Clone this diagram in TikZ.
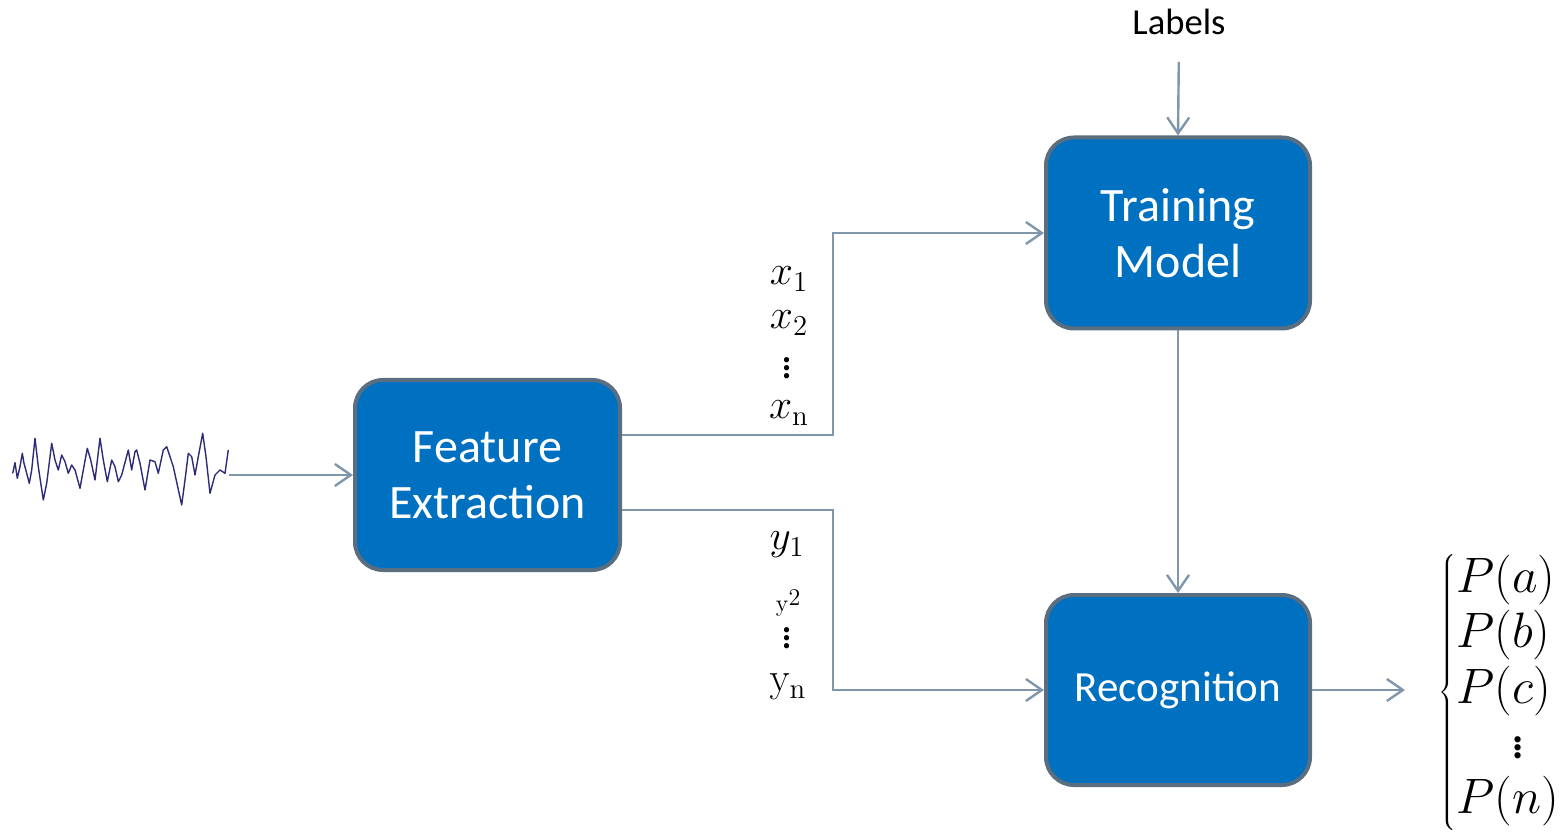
\documentclass[tikz,border=0pt]{standalone}
\usepackage[no-math]{fontspec}
\setmainfont{Carlito}
\usetikzlibrary{arrows.meta}
\definecolor{boxblue}{HTML}{0070C0}
\definecolor{boxline}{HTML}{5B6E80}
\definecolor{conncol}{HTML}{7F96AB}
\definecolor{wave}{HTML}{2B2B78}
\begin{document}
\begin{tikzpicture}[x=0.5pt,y=-0.5pt,
  box/.style={draw=boxline,fill=boxblue,line width=2pt,rounded corners=14pt,
    text=white,align=center,inner sep=0pt,font=\fontsize{24}{28}\selectfont},
  conn/.style={draw=conncol,line width=1.2pt,-{Straight Barb[length=8pt,width=11pt]}},
  mlab/.style={font=\fontsize{22}{24}\selectfont,inner sep=0pt}]
\useasboundingbox (0,0) rectangle (1568,833);
% boxes
\node[box,minimum width=132.5pt,minimum height=95pt] (fe) at (487.5,475) {Feature\\Extraction};
\node[box,minimum width=132pt,minimum height=95.5pt] (tm) at (1178,233) {Training\\Model};
\node[box,minimum width=132pt,minimum height=95pt,font=\fontsize{21.5}{24}\selectfont] (rec) at (1178,690) {Recognition};
% labels
\node[font=\fontsize{18.3}{21}\selectfont] (lab) at (1179,22) {Labels};
% waveform
\draw[wave,line width=0.7pt,line join=round]
 plot coordinates {(12.7,473.3) (15,462.7) (17.3,478.3) (20,466.7) (22.3,453.3) (24,463.3) (26.7,473.3) (29.3,483.3) (31.7,470) (35,438.3) (38.3,466.7) (43.3,500) (46.7,483.3) (51.7,443.3) (55,460) (58.3,470) (61.7,455) (65,461.7) (68.3,473.3) (71.7,465) (75,470) (80,488.3) (83.3,470) (87.3,448.3) (90.7,460) (95,480) (100,438.3) (103.3,460) (107.3,481.7) (111.7,460) (115,466.7) (118.3,481.7) (121.7,475) (128.3,450) (131.7,470) (135,451.7) (136.7,450) (140,463.3) (145,490) (150,460) (155,461.7) (158.3,473.3) (163.3,450) (166.7,446.7) (173.3,466.7) (181.7,505) (185,480) (188.3,453.3) (191.7,456.7) (195,475) (198.3,456.7) (202.7,433.3) (206,456.7) (210,493.3) (215,475) (220,470) (225,473.3) (228.3,450)};
\coordinate (sig) at (229,475);
\draw[conn] (sig) -- (fe.west);
% feature to training / recognition
\coordinate (k1) at (833,233);
\coordinate (k2) at (833,690);
\draw[conn] ([yshift=20pt]fe.east) -| (k1) -- (tm.west);
\draw[conn] ([yshift=-17.5pt]fe.east) -| (k2) -- (rec.west);
\draw[conn] (tm.south) -- (rec.north);
\draw[conn,shorten <=10pt] (lab.south) -- (tm.north);
\coordinate (out) at (1405,690);
\draw[conn] (rec.east) -- (out);
% x labels
\node[mlab] (x1) at (789,279) {$x_1$};
\node[mlab] (x2) at (789,323) {$x_2$};
\node[mlab] (xd) at (787,362) {$\vdots$};
\node[mlab] (xn) at (789,413) {$x_{\mathrm{n}}$};
% y labels
\node[mlab] (y1) at (787,545) {$y_1$};
\node[font=\fontsize{13}{15}\selectfont,inner sep=0pt] (y2) at (788,603) {$\mathrm{y}$\raisebox{3pt}{$\mathrm{2}$}};
\node[mlab] (yd) at (787,632) {$\vdots$};
\node[mlab] (yn) at (788,687) {$\mathrm{y}_{\mathrm{n}}$};
% outputs
\node[font=\fontsize{26}{30}\selectfont,inner sep=0pt] (pout) at (1500,692)
 {$\renewcommand{\arraystretch}{0.92}\left\{\begin{array}{@{}l@{}}P(a)\\P(b)\\P(c)\\\hspace{1.05em}\vdots\\P(n)\end{array}\right.$};
\end{tikzpicture}
\end{document}
